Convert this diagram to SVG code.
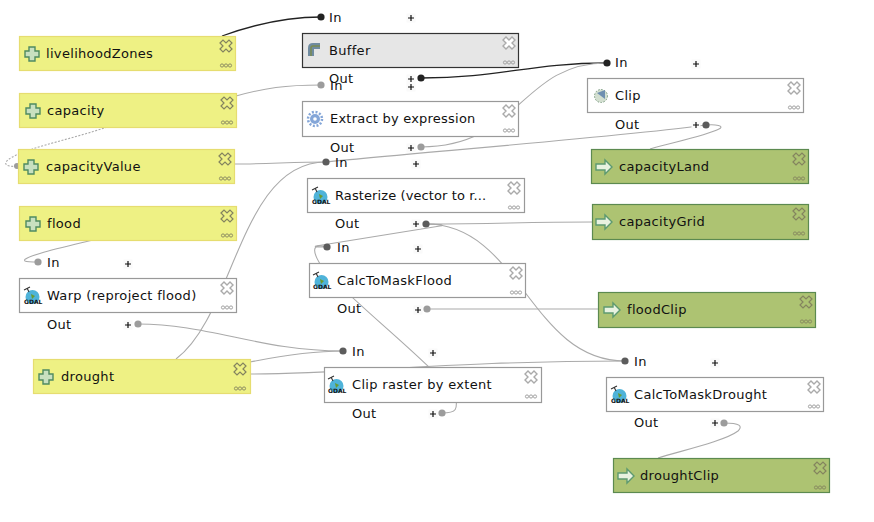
<svg xmlns="http://www.w3.org/2000/svg" width="874" height="522" viewBox="0 0 874 522">
<style>
text{font-family:"DejaVu Sans",sans-serif;font-size:13px;fill:#111;letter-spacing:.32px}
.n{stroke-width:1.2}
.in{fill:#eef184;stroke:#e6dd70}
.out{fill:#adc372;stroke:#5c8a50}
.alg{fill:#fff;stroke:#999}
.sel{fill:#e6e6e6;stroke:#333}
.c{fill:none;stroke:#aaa;stroke-width:1.1}
.k{fill:none;stroke:#222;stroke-width:1.3}
.d1{fill:#222}.d2{fill:#5c5c5c}.d3{fill:#9c9c9c}
.ic{fill:none;stroke:#84845f;stroke-width:1.2}
.icw{fill:#fff;stroke:#aaa;stroke-width:1.4}
.dots{fill:none;stroke:#84845f;stroke-width:.9}
.dotsw{fill:none;stroke:#999;stroke-width:.9}
.gd{font-size:6px;font-weight:bold;fill:#111;letter-spacing:0}
</style>
<defs>
<g id="ctl">
<path class="ic" d="M-6-3-3-6 0-3 3-6 6-3 3 0 6 3 3 6 0 3-3 6-6 3-3 0Z"/>
<g class="dots" transform="translate(0,19.500)"><circle cx="-4" r="1.600"/><circle cx="0" r="1.600"/><circle cx="4" r="1.600"/></g>
</g>
<g id="ctw">
<path class="icw" d="M-6-3-3-6 0-3 3-6 6-3 3 0 6 3 3 6 0 3-3 6-6 3-3 0Z"/>
<g class="dotsw" transform="translate(0,19.500)"><circle cx="-4" r="1.600"/><circle cx="0" r="1.600"/><circle cx="4" r="1.600"/></g>
</g>
<path id="plusI" d="M-3-7H3V-3H7V3H3V7H-3V3H-7V-3H-3Z" fill="#c8e0c0" stroke="#4f8a60" stroke-width="1.400"/>
<path id="arrI" d="M-8-3H1V-7L8 0 1 7V3H-8Z" fill="#e8f2e0" stroke="#5d9a70" stroke-width="1.400"/>
<g id="gdalI"><circle cx="0.500" cy="1" r="7" fill="#4fb3d9"/><path d="M-1-2 3 0 0 3Z" fill="#6a9a30"/><path d="M-8-6-2-9M-5-8-3-4" stroke="#333" stroke-width="1.100" fill="none"/><text class="gd" x="-8" y="8">GDAL</text></g>
<g id="p"><rect x="-4.500" y="-4.500" width="9" height="9" fill="#fafafa"/><path d="M-3 0H3M0-3V3" stroke="#111" stroke-width="1.200"/></g>
</defs>

<g id="connectors">
<path class="k" d="M222 36C255 24 285 17 321 17"/>
<path class="k" d="M421 78C500 78 530 63 607 63"/>
<path class="c" d="M236 96C265 88 285 85 321 85"/>
<path class="c" d="M421 147C520 147 520 63 607 63"/>
<path class="c" d="M235 164C265 164 295 162 326 162"/>
<path class="c" d="M326 162C400 154 620 137 706 125C716 124 725 126 719 129C705 136 670 143 650 149"/>
<path class="c" d="M176 359C235 315 240 162 326 162"/>
<path class="c" d="M93 240C60 248 20 257 25 261C27 262 32 262 38 262"/>
<path class="c" stroke-dasharray="2 1.500" d="M107 127C70 140 15 150 6 162C4 166 12 167 18 166"/>
<circle class="d3" cx="17" cy="166" r="3"/>
<path class="c" d="M138 324C210 324 260 351 343 351"/>
<path class="c" d="M250 362C280 356 310 351 343 351"/>
<path class="c" d="M250 374C350 374 450 361 625 361"/>
<path class="c" d="M426 224C500 224 520 222 592 222"/>
<path class="c" d="M426 224C520 224 530 361 625 361"/>
<path class="c" d="M426 224C440 224 446 225 440 226L316 246C313 247 320 247 327 247"/>
<path class="c" d="M442 413C458 413 457 408 456 398C440 370 350 300 330 275C318 265 312 250 316 247C320 244 324 247 327 247"/>
<path class="c" d="M427 309H598"/>
<path class="c" d="M724 423C740 423 743 426 738 431C725 441 680 451 658 458"/>
</g>

<g id="livelihoodZones"><rect class="n in" x="19.500" y="36.500" width="216" height="34"/><use href="#plusI" x="32" y="54"/><text x="46" y="58">livelihoodZones</text><use href="#ctl" x="226" y="46"/></g>
<g id="capacity"><rect class="n in" x="19.500" y="93.500" width="217" height="34"/><use href="#plusI" x="33" y="111"/><text x="47" y="115">capacity</text><use href="#ctl" x="227" y="103"/></g>
<g id="capacityValue"><rect class="n in" x="18.500" y="149.500" width="216" height="34"/><use href="#plusI" x="31" y="167"/><text x="46" y="171">capacityValue</text><use href="#ctl" x="225" y="159"/></g>
<g id="flood"><rect class="n in" x="19.500" y="206.500" width="217" height="34"/><use href="#plusI" x="33" y="224"/><text x="47" y="228">flood</text><use href="#ctl" x="227" y="216"/></g>
<g id="warp"><rect class="n alg" x="19.500" y="278.500" width="217" height="34"/><use href="#gdalI" x="32" y="296"/><text x="47" y="300">Warp (reproject flood)</text><use href="#ctw" x="227" y="288"/>
<circle class="d3" cx="38" cy="262" r="3.600"/><text x="47" y="267">In</text><use href="#p" x="128" y="264"/><text x="47" y="329">Out</text><use href="#p" x="128" y="325"/><circle class="d3" cx="138" cy="324" r="3.600"/></g>
<g id="drought"><rect class="n in" x="33.500" y="359.500" width="217" height="34"/><use href="#plusI" x="46" y="377"/><text x="61" y="381">drought</text><use href="#ctl" x="240" y="369"/></g>

<g id="buffer"><rect class="n sel" x="302.500" y="33.500" width="216" height="34"/>
<path d="M311 56V48Q311 46 313 46H320" fill="none" stroke="#6f8ba0" stroke-width="6"/><path d="M311 56V48Q311 46 313 46H320" fill="none" stroke="#7a8a50" stroke-width="1.500"/>
<text x="329" y="55">Buffer</text><use href="#ctw" x="509" y="43"/>
<circle class="d1" cx="321" cy="17" r="3.600"/><text x="329" y="22">In</text><use href="#p" x="411" y="18"/><text x="329" y="83">Out</text><use href="#p" x="411" y="79"/><circle class="d1" cx="421" cy="78" r="3.600"/></g>
<g id="extract"><rect class="n alg" x="302.500" y="101.500" width="216" height="35"/>
<circle cx="315" cy="119" r="5" fill="#84a6d8"/><circle cx="315" cy="119" r="7" fill="none" stroke="#84a6d8" stroke-width="2.500" stroke-dasharray="2 1.700"/><circle cx="315" cy="119" r="1.800" fill="#fff"/>
<text x="330" y="123" style="letter-spacing:.22px">Extract by expression</text><use href="#ctw" x="509" y="111"/>
<circle class="d3" cx="321" cy="85" r="3.600"/><text x="330" y="90">In</text><use href="#p" x="411" y="87"/><text x="330" y="152">Out</text><use href="#p" x="411" y="148"/><circle class="d3" cx="421" cy="147" r="3.600"/></g>
<g id="rasterize"><rect class="n alg" x="307.500" y="178.500" width="217" height="34"/><use href="#gdalI" x="320" y="196"/><text x="335" y="200" style="letter-spacing:.1px">Rasterize (vector to r...</text><use href="#ctw" x="514" y="188"/>
<circle class="d2" cx="326" cy="162" r="3.600"/><text x="335" y="167">In</text><use href="#p" x="416" y="164"/><text x="335" y="228">Out</text><use href="#p" x="416" y="224"/><circle class="d2" cx="426" cy="224" r="3.600"/></g>
<g id="calcToMaskFlood"><rect class="n alg" x="309.500" y="263.500" width="216" height="34"/><use href="#gdalI" x="321" y="281"/><text x="337" y="285">CalcToMaskFlood</text><use href="#ctw" x="516" y="273"/>
<circle class="d2" cx="327" cy="247" r="3.600"/><text x="337" y="252">In</text><use href="#p" x="418" y="249"/><text x="337" y="313">Out</text><use href="#p" x="418" y="310"/><circle class="d3" cx="427" cy="309" r="3.600"/></g>
<g id="clipRaster"><rect class="n alg" x="324.500" y="367.500" width="217" height="35"/><use href="#gdalI" x="336" y="385"/><text x="352" y="389">Clip raster by extent</text><use href="#ctw" x="531" y="377"/>
<circle class="d2" cx="343" cy="351" r="3.600"/><text x="352" y="356">In</text><use href="#p" x="433" y="353"/><text x="352" y="418">Out</text><use href="#p" x="433" y="414"/><circle class="d3" cx="442" cy="413" r="3.600"/></g>

<g id="clip"><rect class="n alg" x="587.500" y="78.500" width="216" height="34"/>
<circle cx="601" cy="96" r="6.500" fill="#d3dfd0" stroke="#7a9a80" stroke-dasharray="1.500 1.500"/><path d="M597 93 605 90 605 99Z" fill="#6f8fb0"/>
<text x="615" y="100">Clip</text><use href="#ctw" x="794" y="88"/>
<circle class="d1" cx="607" cy="63" r="3.600"/><text x="615" y="67">In</text><use href="#p" x="696" y="64"/><text x="615" y="129">Out</text><use href="#p" x="696" y="125"/><circle class="d2" cx="706" cy="125" r="3.600"/></g>
<g id="capacityLand"><rect class="n out" x="591.500" y="149.500" width="217" height="34"/><use href="#arrI" x="604" y="167"/><text x="619" y="171">capacityLand</text><use href="#ctl" x="799" y="159"/></g>
<g id="capacityGrid"><rect class="n out" x="592.500" y="204.500" width="216" height="35"/><use href="#arrI" x="604" y="222"/><text x="619" y="226">capacityGrid</text><use href="#ctl" x="799" y="214"/></g>
<g id="floodClip"><rect class="n out" x="598.500" y="292.500" width="217" height="35"/><use href="#arrI" x="612" y="310"/><text x="627" y="314">floodClip</text><use href="#ctl" x="806" y="302"/></g>
<g id="calcToMaskDrought"><rect class="n alg" x="606.500" y="377.500" width="217" height="34"/><use href="#gdalI" x="619" y="395"/><text x="634" y="399">CalcToMaskDrought</text><use href="#ctw" x="814" y="387"/>
<circle class="d2" cx="625" cy="361" r="3.600"/><text x="634" y="366">In</text><use href="#p" x="715" y="363"/><text x="634" y="427">Out</text><use href="#p" x="715" y="423"/><circle class="d3" cx="724" cy="423" r="3.600"/></g>
<g id="droughtClip"><rect class="n out" x="613.500" y="458.500" width="216" height="34"/><use href="#arrI" x="626" y="476"/><text x="640" y="480">droughtClip</text><use href="#ctl" x="820" y="468"/></g>
</svg>
